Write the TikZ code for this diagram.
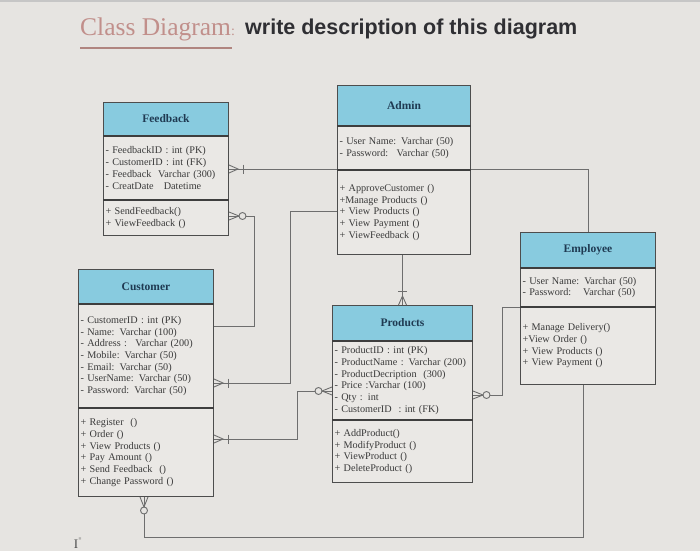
\documentclass[tikz,border=0pt]{standalone}
\usepackage{fontspec}
\setmainfont{Liberation Serif}
\newfontfamily\titlesans{Liberation Sans}
\usetikzlibrary{calc}
\definecolor{bgc}{HTML}{E6E4E1}
\definecolor{boxfill}{HTML}{EAE8E5}
\definecolor{hdrblue}{HTML}{88CBDF}
\definecolor{hdrtext}{HTML}{1F3A52}
\definecolor{txtc}{HTML}{3A3A3A}
\definecolor{boxline}{HTML}{4D4D4D}
\definecolor{connc}{HTML}{6E6E6E}
\definecolor{titlepink}{HTML}{C18F8B}
\definecolor{titledark}{HTML}{2F2F33}
\definecolor{ulinec}{HTML}{B08580}
\tikzset{
  hdrbox/.style={draw=boxline, fill=hdrblue, line width=1pt, text=hdrtext,
    font=\bfseries\fontsize{11.5}{13}\selectfont, inner sep=0pt, anchor=north west},
  partbox/.style={draw=boxline, fill=boxfill, line width=1pt, text=txtc,
    font=\fontsize{10.2}{11.7}\selectfont, align=left, inner xsep=2pt, inner ysep=0pt, anchor=north},
  sepline/.style={draw=boxline!80!black, line width=1.8pt},
  conn/.style={draw=connc, line width=0.9pt},
  crowbar/.pic={
    \draw[conn] (0,-4) -- (9,0) -- (0,4);
    \draw[conn] (0,0) -- (9,0);
    \draw[conn] (14,-4.5) -- (14,4.5);
  },
  crowcirc/.pic={
    \draw[conn] (0,-4) -- (10,0) -- (0,4);
    \draw[conn] (0,0) -- (10,0);
    \draw[conn, fill=bgc] (13.5,0) circle[radius=3.5pt];
  }
}
\begin{document}
\begin{tikzpicture}[x=1pt,y=-1pt]
\fill[bgc] (0,0) rectangle (700,551);
\useasboundingbox (0,0) rectangle (700,551);
\fill[gray!45] (0,0) rectangle (700,2.5);

% title
\node[anchor=base west, inner sep=0pt, text=titlepink, font=\fontsize{25.5}{26}\selectfont] (t1) at (80,36) {Class Diagram\fontsize{14}{14}\selectfont:};
\node[anchor=base west, inner sep=0pt, text=titledark, font=\titlesans\bfseries\fontsize{21.5}{21.5}\selectfont] (t2) at (245,35) {write description of this diagram};
\draw[ulinec, line width=1.5pt] (80,48) -- (232,48);

% Feedback
\node[hdrbox, minimum width=125pt, minimum height=33pt] (fbh) at (103,102) {Feedback};
\node[partbox, minimum width=125pt, text width=121pt, minimum height=63pt] (fba) at (fbh.south) {- FeedbackID : int (PK)\\- CustomerID : int (FK)\\- Feedback \ Varchar (300)\\- CreatDate \ \ Datetime};
\node[partbox, minimum width=125pt, text width=121pt, minimum height=35pt] (fbm) at (fba.south) {+ SendFeedback()\\+ ViewFeedback ()};

% Admin
\node[hdrbox, minimum width=133pt, minimum height=40pt] (adh) at (337,85) {Admin};
\node[partbox, minimum width=133pt, text width=129pt, minimum height=43pt] (ada) at (adh.south) {- User Name: Varchar (50)\\- Password: \ Varchar (50)};
\node[partbox, minimum width=133pt, text width=129pt, minimum height=84pt] (adm) at (ada.south) {+ ApproveCustomer ()\\+Manage Products ()\\+ View Products ()\\+ View Payment ()\\+ ViewFeedback ()};

% Employee
\node[hdrbox, minimum width=135pt, minimum height=35pt] (emh) at (520,232) {Employee};
\node[partbox, minimum width=135pt, text width=131pt, minimum height=38pt] (ema) at (emh.south) {- User Name: Varchar (50)\\- Password: \ \ Varchar (50)};
\node[partbox, minimum width=135pt, text width=131pt, minimum height=77pt] (emm) at (ema.south) {+ Manage Delivery()\\+View Order ()\\+ View Products ()\\+ View Payment ()};

% Customer
\node[hdrbox, minimum width=135pt, minimum height=34pt] (cuh) at (78,269) {Customer};
\node[partbox, minimum width=135pt, text width=131pt, minimum height=103pt] (cua) at (cuh.south) {- CustomerID : int (PK)\\- Name: Varchar (100)\\- Address : \ Varchar (200)\\- Mobile: Varchar (50)\\- Email: Varchar (50)\\- UserName: Varchar (50)\\- Password: Varchar (50)};
\node[partbox, minimum width=135pt, text width=131pt, minimum height=88pt] (cum) at (cua.south) {+ Register \ ()\\+ Order ()\\+ View Products ()\\+ Pay Amount ()\\+ Send Feedback \ ()\\+ Change Password ()};

% Products
\node[hdrbox, minimum width=140pt, minimum height=35pt] (prh) at (332,305) {Products};
\node[partbox, minimum width=140pt, text width=136pt, minimum height=78pt] (pra) at (prh.south) {- ProductID : int (PK)\\- ProductName : Varchar (200)\\- ProductDecription \ (300)\\- Price :Varchar (100)\\- Qty : int\\- CustomerID \ : int (FK)};
\node[partbox, minimum width=140pt, text width=136pt, minimum height=62pt] (prm) at (pra.south) {+ AddProduct()\\+ ModifyProduct ()\\+ ViewProduct ()\\+ DeleteProduct ()};

% separators
\foreach \n in {fba,fbm,ada,adm,ema,emm,cua,cum,pra,prm}{
  \draw[sepline] (\n.north west) -- (\n.north east);
}

% connectors
\draw[conn] (fba.east |- 0,169) -- (adm.west |- 0,169);
\draw[conn] (adm.east |- 0,169) -| (emh.north);
\draw[conn] (fbm.east |- 0,216) -- (254,216) |- (cua.east |- 0,326);
\draw[conn] (cua.east |- 0,383) -- (290,383) |- (adm.west |- 0,211);
\draw[conn] (cum.east |- 0,439) -- (297,439) |- (pra.west |- 0,391);
\draw[conn] (prh.north |- adm.south) -- (prh.north);
\draw[conn] (pra.east |- 0,395) -- (502,395) |- (emm.west |- 0,307);
\draw[conn] (cum.south -| 144,0) -- (144,537) -| (emm.south -| 583,0);

% ends
\pic at (fba.east |- 0,169) {crowbar};
\pic at (fbm.east |- 0,216) {crowcirc};
\pic at (cua.east |- 0,383) {crowbar};
\pic at (cum.east |- 0,439) {crowbar};
\pic[rotate=180] at (pra.west |- 0,391) {crowcirc};
\pic[rotate=90] at (prh.north) {crowbar};
\pic at (pra.east |- 0,395) {crowcirc};
\pic[rotate=-90] at (cum.south -| 144,0) {crowcirc};

% text cursor
\node[inner sep=0pt, text=gray!60!black, font=\fontsize{13}{13}\selectfont] (cursor) at (76,544) {I};
\node[inner sep=0pt, text=gray!60!black, font=\fontsize{5}{5}\selectfont, anchor=west] (cursor2) at (cursor.north east) {≡};
\end{tikzpicture}
\end{document}
